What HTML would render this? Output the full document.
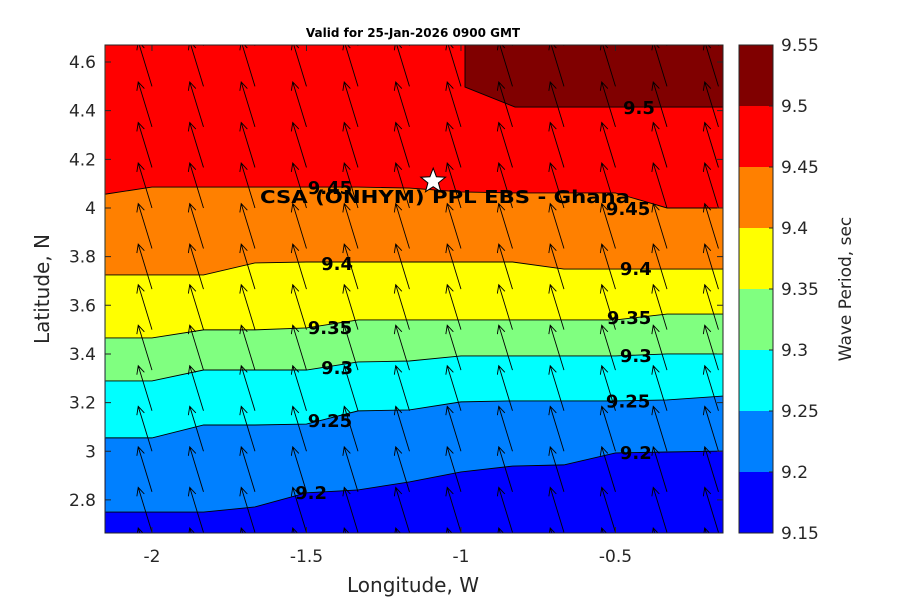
<!DOCTYPE html>
<html><head><meta charset="utf-8"><style>
body{margin:0;background:#fff;}
svg{display:block;font-family:"DejaVu Sans","Liberation Sans",sans-serif;}
</style></head><body>
<svg id="chart" width="900" height="600" viewBox="0 0 900 600" xmlns="http://www.w3.org/2000/svg"></svg>
<script>
// ---- data ----
const levels = [9.15, 9.2, 9.25, 9.3, 9.35, 9.4, 9.45, 9.5, 9.55];
const bandColors = ["#0000ff","#0080ff","#00ffff","#80ff80","#ffff00","#ff8000","#ff0000","#800000"];
const boundaryLons = [-2.15,-2,-1.833,-1.667,-1.5,-1.333,-1.167,-1,-0.833,-0.667,-0.5,-0.333,-0.15];
const lat920 = [2.750,2.750,2.750,2.771,2.829,2.841,2.874,2.915,2.939,2.944,2.993,2.997,3.001];
const lat925 = [3.055,3.055,3.108,3.108,3.112,3.166,3.170,3.203,3.207,3.207,3.207,3.211,3.227];
const lat930 = [3.289,3.289,3.334,3.334,3.334,3.367,3.371,3.392,3.392,3.392,3.392,3.400,3.400];
const lat935 = [3.466,3.466,3.499,3.499,3.507,3.540,3.540,3.540,3.540,3.540,3.540,3.564,3.564];
const lat940 = [3.725,3.725,3.725,3.774,3.778,3.778,3.778,3.778,3.778,3.749,3.749,3.749,3.749];
const lat945 = [4.057,4.086,4.086,4.086,4.086,4.086,4.082,4.066,4.062,4.062,4.062,4.000,4.000];
const lon950 = [-0.987,-0.987,-0.825,-0.15];
const lat950 = [4.670,4.497,4.415,4.415];
const leftLabels = ["9.2","9.25","9.3","9.35","9.4","9.45"];
const leftLabelPos = [[-1.485,2.833],[-1.424,3.129],[-1.401,3.347],[-1.424,3.511],[-1.401,3.774],[-1.424,4.086]];
const rightLabels = ["9.2","9.25","9.3","9.35","9.4","9.45","9.5"];
const rightLabelPos = [[-0.434,2.997],[-0.459,3.209],[-0.434,3.396],[-0.456,3.551],[-0.434,3.753],[-0.459,4.0],[-0.424,4.415]];
const xTicks = [-2,-1.5,-1,-0.5];
const xTickLabels = ["-2","-1.5","-1","-0.5"];
const yTicks = [2.8,3,3.2,3.4,3.6,3.8,4,4.2,4.4,4.6];
const yTickLabels = ["2.8","3","3.2","3.4","3.6","3.8","4","4.2","4.4","4.6"];
const arrowLons = [-2.1667,-2,-1.8333,-1.6667,-1.5,-1.3333,-1.1667,-1,-0.8333,-0.6667,-0.5,-0.3333,-0.1667];
const arrowLats = [2.5,2.6667,2.8333,3,3.1667,3.3333,3.5,3.6667,3.8333,4,4.1667,4.3333,4.5,4.6667,4.8333];
const waveDirDeg = 343;
const arrowLenPx = 47;
const station = {lon:-1.09, lat:4.11, name:"CSA (ONHYM) PPL EBS  - Ghana"};

// ---- axes ----
const X0=105,X1=723,Y0=45,Y1=533;
const lonMin=-2.152, lonMax=-0.152, latMin=2.664, latMax=4.670;
const sx = v => X0 + (v-lonMin)/(lonMax-lonMin)*(X1-X0);
const sy = v => Y1 - (v-latMin)/(latMax-latMin)*(Y1-Y0);
const cy = v => 533 - (v-levels[0])/(levels[levels.length-1]-levels[0])*488;

const NS="http://www.w3.org/2000/svg";
const svg=document.getElementById('chart');
function mk(tag,attrs,parent){const e=document.createElementNS(NS,tag);for(const k in attrs)e.setAttribute(k,attrs[k]);(parent||svg).appendChild(e);return e;}

const defs=mk('defs',{});
const cp=mk('clipPath',{id:'plotclip'},defs);
mk('rect',{x:X0,y:Y0,width:X1-X0,height:Y1-Y0},cp);

const plot=mk('g',{'clip-path':'url(#plotclip)'});



const base=mk('rect',{x:X0,y:Y0,width:X1-X0,height:Y1-Y0,fill:bandColors[0]},plot);



const bounds=[lat920,lat925,lat930,lat935,lat940,lat945];
bounds.forEach((lats,i)=>{
  const pts=boundaryLons.map((lo,j)=>sx(lo)+','+sy(lats[j]));
  const poly=[...pts, sx(boundaryLons[boundaryLons.length-1])+','+(Y0-5), sx(boundaryLons[0])+','+(Y0-5)];
  const p=mk('polygon',{points:poly.join(' '),fill:bandColors[i+1]},plot);
  
  
});
{
  const pts=lon950.map((lo,j)=>sx(lo)+','+sy(lat950[j]));
  const poly=[...pts, (X1+5)+','+(Y0-5), sx(lon950[0])+','+(Y0-5)];
  const p=mk('polygon',{points:poly.join(' '),fill:bandColors[7]},plot);
  
  
}
bounds.forEach((lats,i)=>{
  const l=mk('polyline',{points:boundaryLons.map((lo,j)=>sx(lo)+','+sy(lats[j])).join(' '),fill:'none',stroke:'#000','stroke-width':0.9},plot);
  
  
});
{
  const l=mk('polyline',{points:lon950.map((lo,j)=>sx(lo)+','+sy(lat950[j])).join(' '),fill:'none',stroke:'#000','stroke-width':0.9},plot);
  
  
}
// arrows
const ang=waveDirDeg*Math.PI/180;
const adx=Math.sin(ang)*arrowLenPx, ady=-Math.cos(ang)*arrowLenPx;
const ag=mk('g',{stroke:'#000','stroke-width':0.9,fill:'none'},plot);


arrowLons.forEach(lo=>arrowLats.forEach(la=>{
  const x=sx(lo),y=sy(la),hx=x+adx,hy=y+ady;
  const bl=9, rev=Math.atan2(-ady,-adx);
  const b1x=hx+bl*Math.cos(rev+0.45),b1y=hy+bl*Math.sin(rev+0.45);
  const b2x=hx+bl*Math.cos(rev-0.45),b2y=hy+bl*Math.sin(rev-0.45);
  const a=mk('path',{d:`M${x},${y}L${hx},${hy}M${b1x},${b1y}L${hx},${hy}L${b2x},${b2y}`},ag);
  
  
}));
// contour labels
function lab(t,pos){
  const e=mk('text',{x:sx(pos[0]),y:sy(pos[1])+7,'font-size':18,'font-weight':'bold','text-anchor':'middle',fill:'#000'},plot);
  e.textContent=t;
  
  
}
leftLabels.forEach((t,i)=>lab(t,leftLabelPos[i]));
rightLabels.forEach((t,i)=>lab(t,rightLabelPos[i]));
// station
{
  const x=sx(station.lon), y=sy(station.lat);
  let pts=[];for(let k=0;k<10;k++){const r=k%2?5.5:13;const a=-Math.PI/2+k*Math.PI/5;pts.push((x+r*Math.cos(a)).toFixed(1)+','+(y+r*Math.sin(a)).toFixed(1));}
  const s=mk('polygon',{points:pts.join(' '),fill:'#fff',stroke:'#000','stroke-width':1});
  
  
  const t=mk('text',{x:260,y:203,'font-size':18,'font-weight':'bold',fill:'#000',textLength:370,lengthAdjust:'spacingAndGlyphs'});
  t.textContent=station.name;
  
  
}
// frame + ticks
const fr=mk('rect',{x:X0,y:Y0,width:X1-X0,height:Y1-Y0,fill:'none',stroke:'#262626','stroke-width':1});


xTicks.forEach((v,i)=>{
  const x=sx(v);
  mk('path',{d:`M${x},${Y1}v-6M${x},${Y0}v6`,stroke:'#262626','stroke-width':1});
  const t=mk('text',{x:x,y:562,'font-size':17,'text-anchor':'middle',fill:'#262626'});
  t.textContent=xTickLabels[i];
  
  
});
yTicks.forEach((v,i)=>{
  const y=sy(v);
  mk('path',{d:`M${X0},${y}h6M${X1},${y}h-6`,stroke:'#262626','stroke-width':1});
  const t=mk('text',{x:96,y:y+6,'font-size':17,'text-anchor':'end',fill:'#262626'});
  t.textContent=yTickLabels[i];
  
  
});
// titles
{
  let t=mk('text',{x:413,y:37,'font-size':12,'font-weight':'bold','text-anchor':'middle',fill:'#000'});
  t.textContent='Valid for 25-Jan-2026 0900 GMT';
  
  t=mk('text',{x:413,y:592,'font-size':20,'text-anchor':'middle',fill:'#262626'});
  t.textContent='Longitude, W';
  
  t=mk('text',{x:0,y:0,'font-size':20,'text-anchor':'middle',fill:'#262626',transform:'translate(49,289) rotate(-90)'});
  t.textContent='Latitude, N';
  
}
// colorbar
const cb=mk('g',{});


bandColors.forEach((c,i)=>{
  const r=mk('rect',{x:739,y:cy(levels[i+1]),width:34,height:cy(levels[i])-cy(levels[i+1]),fill:c},cb);
  
  
});
mk('rect',{x:739,y:45,width:34,height:488,fill:'none',stroke:'#262626','stroke-width':1},cb);
levels.forEach(v=>{
  const y=cy(v);
  mk('path',{d:`M773,${y}h-4`,stroke:'#262626','stroke-width':1},cb);
  const t=mk('text',{x:781,y:y+6,'font-size':17,fill:'#262626'},cb);
  t.textContent=String(v);
  
  
});
{
  const t=mk('text',{x:0,y:0,'font-size':17,'text-anchor':'middle',fill:'#262626',transform:'translate(851,289) rotate(-90)'},cb);
  t.textContent='Wave Period, sec';
  
}
</script>
</body></html>
